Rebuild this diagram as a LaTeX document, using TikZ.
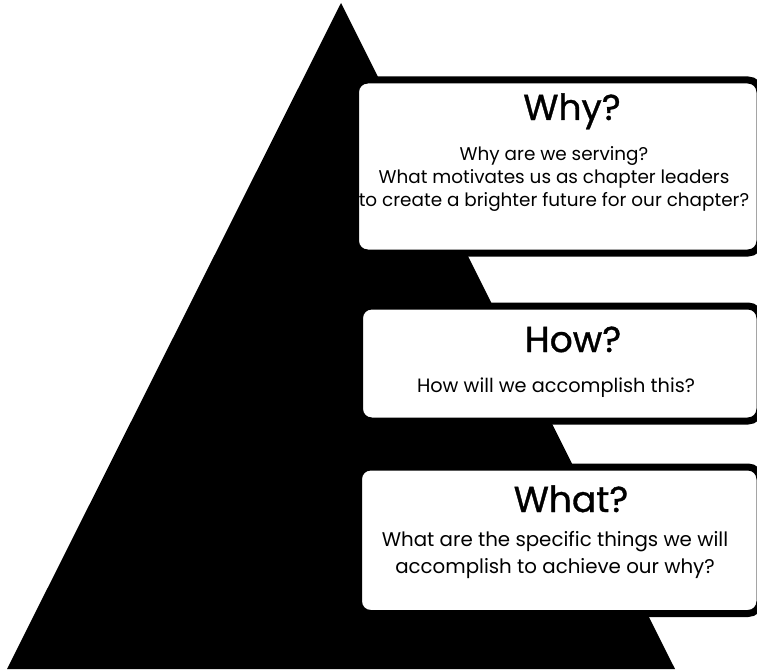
\documentclass[tikz,border=0pt]{standalone}
\usepackage{fontspec}
\setmainfont{Poppins}
\newfontfamily\headfont{Poppins}[FakeBold=1]
\usetikzlibrary{positioning}

\tikzset{
  framebox/.style={draw=black, line width=7pt, fill=white, rounded corners=12pt},
  headtext/.style={font=\headfont\fontsize{36}{40}\selectfont, inner sep=0pt, anchor=base},
  bodytext/.style={align=center, inner sep=0pt, anchor=base},
}

\begin{document}
\begin{tikzpicture}[x=1pt,y=-1pt]
    \useasboundingbox (0,0) rectangle (757,671);

    % pyramid
    \fill[black] (341,3) -- (675,669) -- (7,669) -- cycle;

    % Why
    \draw[framebox] (355.5,80) rectangle (760,253);
    \node[headtext] (why) at (572,120) {Why?};
    \node[bodytext, font=\fontsize{18.4}{23}\selectfont] (whytext) at (554,207) {Why are we serving?\\What motivates us as chapter leaders\\to create a brighter future for our chapter?};

    % How
    \draw[framebox] (359.5,306) rectangle (760,421);
    \node[headtext] (how) at (573,352) {How?};
    \node[bodytext, font=\fontsize{19.3}{23}\selectfont] (howtext) at (556,392) {How will we accomplish this?};

    % What
    \draw[framebox] (358.5,467) rectangle (760,613.5);
    \node[headtext] (what) at (571,512) {What?};
    \node[bodytext, font=\fontsize{19.8}{27}\selectfont] (whattext) at (555,573) {What are the specific things we will\\accomplish to achieve our why?};
\end{tikzpicture}
\end{document}
